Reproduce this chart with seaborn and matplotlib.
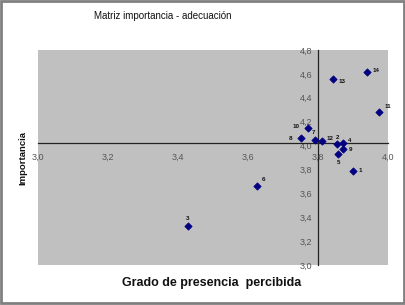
import pandas as pd
import matplotlib
matplotlib.use('Agg')
import matplotlib.pyplot as plt
import matplotlib.patches as mpatches
from matplotlib.ticker import FuncFormatter, MultipleLocator
import seaborn as sns

# Datos
etiquetas = ['1', '2', '3', '4', '5', '6', '7', '8', '9', '10', '11', '12', '13', '14']
presencia = [3.90, 3.855, 3.428, 3.87, 3.858, 3.625, 3.79, 3.75, 3.872, 3.77, 3.974, 3.81, 3.842, 3.94]
importancia = [3.79, 4.01, 3.33, 4.02, 3.93, 3.66, 4.05, 4.06, 3.97, 4.15, 4.28, 4.04, 4.56, 4.62]

datos = pd.DataFrame({'punto': etiquetas, 'presencia': presencia, 'importancia': importancia})

sns.set_style('white')
plt.rcParams['font.family'] = ['Liberation Sans', 'DejaVu Sans']

fig = plt.figure(figsize=(4.06, 3.05), dpi=100)
ax = fig.add_axes([38 / 406, 1 - 265 / 305, 350 / 406, 215 / 305])
ax.set_facecolor('#c0c0c0')

sns.scatterplot(data=datos, x='presencia', y='importancia', marker='D', s=14,
                color='#000080', edgecolor='#000080', linewidth=0.5, ax=ax, zorder=3)

# Desplazamientos de las etiquetas (en puntos)
desplaz = {'1': (4, 0), '2': (0, 5), '3': (0, 5), '4': (4, 2), '5': (0, -6),
           '6': (4, 5), '7': (-1, 5), '8': (-6, 0), '9': (4, 0), '10': (-6, 1),
           '11': (4, 4), '12': (4, 2), '13': (4, -2), '14': (4, 1)}
for _, fila in datos.iterrows():
    dx, dy = desplaz[fila['punto']]
    ax.annotate(fila['punto'], (fila['presencia'], fila['importancia']),
                xytext=(dx, dy), textcoords='offset points', fontsize=4.5,
                fontweight='bold', ha='left' if dx > 1 else ('right' if dx < -1 else 'center'),
                va='center', color='#111111')

ax.set_xlim(3.0, 4.0)
ax.set_ylim(3.0, 4.8)
ax.xaxis.set_major_locator(MultipleLocator(0.2))
ax.yaxis.set_major_locator(MultipleLocator(0.2))
fmt = FuncFormatter(lambda v, p: f'{v:.1f}'.replace('.', ','))
ax.xaxis.set_major_formatter(fmt)
ax.yaxis.set_major_formatter(fmt)

ax.spines['left'].set_position(('data', 3.8))
ax.spines['bottom'].set_position(('data', 4.02))
for s in ['left', 'bottom']:
    ax.spines[s].set_color('#222222')
    ax.spines[s].set_linewidth(0.9)
    ax.spines[s].set_zorder(2)
ax.spines['top'].set_visible(False)
ax.spines['right'].set_visible(False)

ax.tick_params(axis='both', labelsize=6.5, colors='#222222', labelcolor='#555555',
               length=3, width=0.8, direction='out')
ax.tick_params(axis='x', pad=4)
ax.tick_params(axis='y', pad=1)
ax.set_xlabel('')
ax.set_ylabel('')

fig.text(94 / 406, 1 - 16 / 305, 'Matriz importancia - adecuación', fontsize=7,
         ha='left', va='center', color='#111111')
fig.text(212 / 406, 1 - 283 / 305, 'Grado de presencia  percibida', fontsize=9,
         fontweight='bold', ha='center', va='center', color='#111111')
fig.text(23 / 406, 1 - 158 / 305, 'Importancia', fontsize=6.8,
         fontweight='bold', rotation=90, ha='center', va='center', color='#111111')

# Marco exterior del gráfico
fig.patches.append(mpatches.Rectangle((0.003, 0.006), 0.992, 0.99, transform=fig.transFigure,
                                      fill=False, edgecolor='#808080', linewidth=2))

fig.savefig('out.png', dpi=100)
